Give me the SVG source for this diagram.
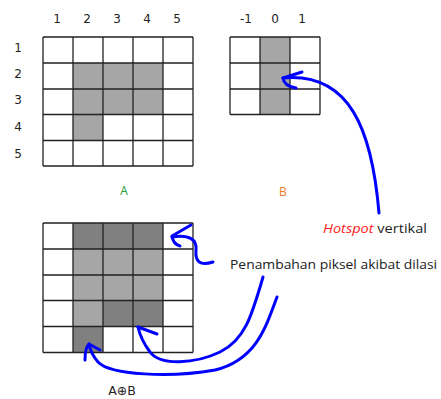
<svg xmlns="http://www.w3.org/2000/svg" width="441" height="399" viewBox="0 0 441 399">
<defs>
<style>
.num{font-family:"DejaVu Sans",Verdana,sans-serif;font-size:12px;fill:#222;text-anchor:middle}
.l{fill:#a6a6a6}
.d{fill:#808080}
.lbl{font-family:"Open Sans","Noto Sans",sans-serif;font-size:13px;fill:#222}
.arrow{fill:none;stroke:#0000ff;stroke-width:3;stroke-linecap:round;stroke-linejoin:round}
</style>
</defs>
<rect width="441" height="399" fill="#fff"/>

<g id="gridA">
<text class="num" x="57" y="23">1</text>
<text class="num" x="87" y="23">2</text>
<text class="num" x="117" y="23">3</text>
<text class="num" x="147" y="23">4</text>
<text class="num" x="177" y="23">5</text>
<text class="num" x="18" y="52">1</text>
<text class="num" x="18" y="78">2</text>
<text class="num" x="18" y="104">3</text>
<text class="num" x="18" y="131">4</text>
<text class="num" x="18" y="158">5</text>
<rect x="43" y="37" width="150" height="129" fill="#fff"/>
<rect class="l" x="73" y="63" width="90" height="52"/>
<rect class="l" x="73" y="114" width="30" height="26"/>
<g fill="none" stroke="#222" stroke-width="1.3">
<path d="M43,37H193M43,63H193M43,89H193M43,114.5H193M43,140.5H193M43,166H193"/>
<path d="M43,37V166M73,37V166M103,37V166M133,37V166M163,37V166M193,37V166"/>
</g>
<text x="124" y="195" font-family="'Open Sans','Noto Sans',sans-serif" font-size="12px" fill="#22a030" text-anchor="middle">A</text>
</g>

<g id="gridB">
<text class="num" x="246" y="23">-1</text>
<text class="num" x="275" y="23">0</text>
<text class="num" x="302" y="23">1</text>
<text class="num" x="241" y="52">-1</text>
<text class="num" x="239" y="78">0</text>
<text class="num" x="240" y="104">1</text>
<rect x="230" y="37" width="90" height="78" fill="#fff"/>
<rect class="l" x="260" y="37" width="30" height="78"/>
<g fill="none" stroke="#222" stroke-width="1.3">
<path d="M230,37H320M230,63H320M230,89H320M230,114.5H320"/>
<path d="M230,37V114.5M260,37V114.5M290,37V114.5M320,37V114.5"/>
</g>
<text x="283" y="196" font-family="'Open Sans','Noto Sans',sans-serif" font-size="12px" fill="#ed7d31" text-anchor="middle">B</text>
</g>

<g id="gridAB">
<rect x="43" y="223" width="150" height="129.5" fill="#fff"/>
<rect class="d" x="73" y="223" width="90" height="26"/>
<rect class="l" x="73" y="249" width="90" height="52"/>
<rect class="l" x="73" y="300.5" width="30" height="26"/>
<rect class="d" x="103" y="300.5" width="60" height="26"/>
<rect class="d" x="73" y="326.5" width="30" height="26"/>
<g fill="none" stroke="#222" stroke-width="1.3">
<path d="M43,223H193M43,249H193M43,275H193M43,300.5H193M43,326.5H193M43,352.5H193"/>
<path d="M43,223V352.5M73,223V352.5M103,223V352.5M133,223V352.5M163,223V352.5M193,223V352.5"/>
</g>
<text x="122" y="395" font-family="'DejaVu Sans',sans-serif" font-size="12.5px" fill="#222" text-anchor="middle">A⊕B</text>
</g>

<g id="labels">
<text class="lbl" x="323" y="233" textLength="104" lengthAdjust="spacingAndGlyphs"><tspan fill="#ff1a1a" font-style="italic">Hotspot</tspan> vertikal</text>
<text class="lbl" x="230" y="269" textLength="207" lengthAdjust="spacingAndGlyphs">Penambahan piksel akibat dilasi</text>
</g>

<g id="connectors">
<path class="arrow" d="M379,213 C372,130 350,72 283,78"/>
<path class="arrow" d="M302,72 L283,78 Q284,86 296,88"/>
<path class="arrow" d="M213,262 C200,266 195,262 196,250 C197,240 190,234 172,237"/>
<path class="arrow" d="M191,225 L172,236 Q173,244 180,246"/>
<path class="arrow" d="M263,277 C252,315 245,340 220,352 C195,364 160,366 150,352 C144,344 140,336 138,327"/>
<path class="arrow" d="M157,334 L138,327"/>
<path class="arrow" d="M277,297 C265,330 255,360 215,370 C170,378 110,375 98,362 C92,355 90,350 89,344"/>
<path class="arrow" d="M85,360 Q85,348 89,344 L100,350"/>
</g>
</svg>
